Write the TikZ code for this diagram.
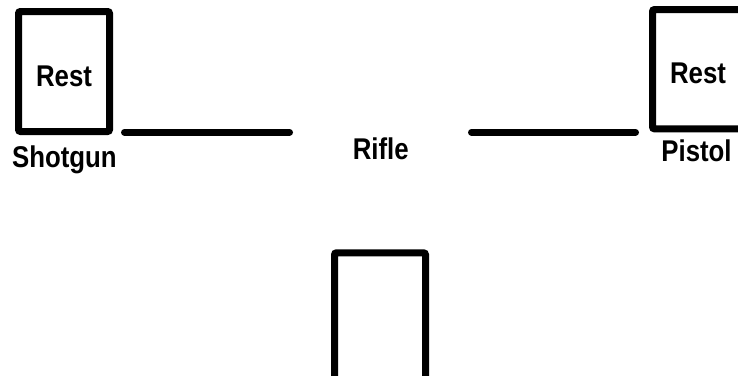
\documentclass[tikz,border=0pt]{standalone}
\usepackage{fontspec}
\setmainfont{Liberation Sans}
\newfontfamily\tallfont{Liberation Sans}[FakeStretch=0.86]
\begin{document}
\begin{tikzpicture}[x=1pt,y=-1pt,
  labfont/.style={font=\tallfont\bfseries\fontsize{30}{30}\selectfont},
  stand/.style={draw=black, line width=7pt, rounded corners=2pt, minimum width=91pt, inner sep=0pt, text height=29pt, text depth=0pt, labfont},
  lab/.style={inner sep=0pt, anchor=base, labfont},
  track/.style={line width=7pt, line cap=round}]
\useasboundingbox (0,0) rectangle (738,375);
\clip (0,0) rectangle (738,375);
\node[stand, minimum height=120pt] (sg) at (64,71.5) {Rest};
\node[stand, minimum height=119.3pt] (ps) at (698,69.2) {Rest};
\node[stand, minimum height=131pt] (bot) at (380,318.3) {};
\node[lab] (sgl) at (64.4,167.3) {Shotgun};
\node[lab] (psl) at (696.5,161.7) {Pistol};
\node[lab] (rf) at (380.7,159) {Rifle};
\coordinate (a1) at (124.5,132.3);
\coordinate (a2) at (289.5,132.3);
\coordinate (b1) at (471.5,132.3);
\coordinate (b2) at (635.5,132.3);
\draw[track] (a1) -- (a2);
\draw[track] (b1) -- (b2);
\end{tikzpicture}
\end{document}
